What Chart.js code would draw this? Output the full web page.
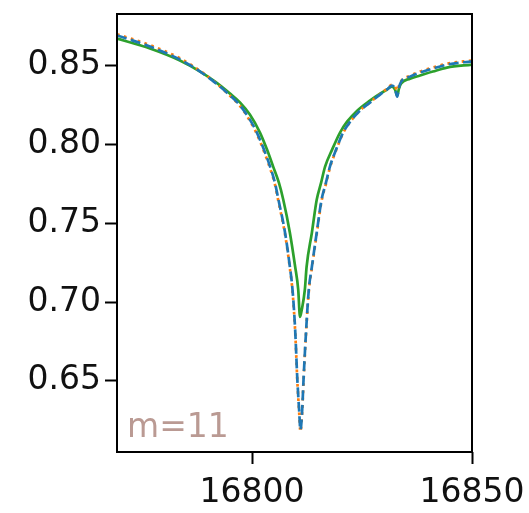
<!DOCTYPE html>
<html>
<head>
<meta charset="utf-8">
<script src="https://cdn.jsdelivr.net/npm/chart.js@4"></script>
<style>
  html, body { margin: 0; padding: 0; background: #fff; }
  canvas { display: block; }
</style>
</head>
<body>
<canvas id="chart" width="529" height="513"></canvas>
<script>
// valores (comprimento de onda x fluxo normalizado)
const waveBlue = [16769.3, 16776.8, 16783.6, 16788.2, 16791.6, 16795.0, 16797.3, 16799.5, 16801.1, 16802.7,
    16804.1, 16805.2, 16806.0, 16807.5, 16808.6, 16809.2, 16809.8, 16810.3, 16810.7, 16811.0,
    16811.4, 16811.7, 16812.3, 16812.9, 16813.6, 16814.7, 16815.8, 16816.8, 16817.7, 16819.1,
    16820.7, 16822.3, 16824.5, 16826.8, 16829.1, 16830.7, 16831.8, 16832.5, 16833.0, 16833.4,
    16833.9, 16835.9, 16838.2, 16841.1, 16844.3, 16850.0];
const fluxBlue = [0.8691, 0.8621, 0.8538, 0.8462, 0.8392, 0.8310, 0.8246, 0.8157, 0.8075, 0.7967,
    0.7859, 0.7757, 0.7649, 0.7440, 0.7224, 0.7078, 0.6824, 0.6506, 0.6316, 0.6189,
    0.6316, 0.6506, 0.6824, 0.7078, 0.7224, 0.7440, 0.7649, 0.7757, 0.7859, 0.7967,
    0.8075, 0.8144, 0.8214, 0.8265, 0.8316, 0.8348, 0.8373, 0.8354, 0.8303, 0.8360,
    0.8398, 0.8430, 0.8456, 0.8481, 0.8506, 0.8527];
const fluxOrange = [0.8699, 0.8630, 0.8546, 0.8466, 0.8394, 0.8308, 0.8242, 0.8150, 0.8066, 0.7956,
    0.7848, 0.7746, 0.7638, 0.7430, 0.7214, 0.7068, 0.6815, 0.6496, 0.6305, 0.6178,
    0.6305, 0.6496, 0.6815, 0.7068, 0.7214, 0.7430, 0.7640, 0.7750, 0.7852, 0.7962,
    0.8072, 0.8142, 0.8214, 0.8266, 0.8320, 0.8353, 0.8378, 0.8368, 0.8340, 0.8372,
    0.8402, 0.8435, 0.8462, 0.8487, 0.8512, 0.8532];

const waveGreen = [16769.3, 16776.8, 16783.6, 16788.2, 16791.6, 16795.0, 16797.3, 16799.5, 16801.8, 16803.4,
    16804.8, 16806.1, 16807.1, 16808.6, 16809.8, 16810.5, 16810.9, 16811.3, 16812.0, 16812.4,
    16813.6, 16814.7, 16815.7, 16816.6, 16818.2, 16820.0, 16821.6, 16823.9, 16826.8, 16829.1,
    16830.7, 16831.8, 16832.5, 16833.0, 16833.4, 16833.9, 16835.9, 16838.2, 16841.1, 16844.3,
    16850.0];
const fluxGreen = [0.8671, 0.8608, 0.8532, 0.8462, 0.8398, 0.8322, 0.8265, 0.8189, 0.8075, 0.7967,
    0.7859, 0.7757, 0.7649, 0.7440, 0.7224, 0.7078, 0.6906, 0.6951, 0.7078, 0.7224,
    0.7440, 0.7649, 0.7757, 0.7859, 0.7967, 0.8075, 0.8144, 0.8214, 0.8278, 0.8322,
    0.8348, 0.8367, 0.8348, 0.8310, 0.8354, 0.8386, 0.8417, 0.8437, 0.8462, 0.8487,
    0.8506];

const xTicks = [16800, 16850];
const yTicks = [0.65, 0.70, 0.75, 0.80, 0.85];
const rotulo = 'm=11';

const toPoints = (xs, ys) => xs.map((x, i) => ({ x: x, y: ys[i] }));

const fonte = { family: '"DejaVu Sans", sans-serif', size: 33 };

// moldura completa (matplotlib desenha os 4 lados) + texto m=11
const molduraPlugin = {
    id: 'moldura',
    afterDraw(chart) {
        const { ctx, chartArea: a } = chart;
        ctx.save();
        ctx.strokeStyle = '#000';
        ctx.lineWidth = 2;
        ctx.strokeRect(a.left, a.top, a.right - a.left, a.bottom - a.top);
        ctx.fillStyle = 'rgba(140,86,75,0.6)';
        ctx.font = '33px "DejaVu Sans", sans-serif';
        ctx.textBaseline = 'alphabetic';
        ctx.fillText(rotulo, a.left + 10, a.bottom - 15);
        ctx.restore();
    }
};

const eixoComum = {
    type: 'linear',
    grid: { drawOnChartArea: false, drawTicks: true, tickLength: 12, tickWidth: 2, tickColor: '#000' },
    border: { display: false },
};

new Chart(document.getElementById('chart'), {
    type: 'line',
    data: {
        datasets: [
            { data: toPoints(waveBlue, fluxBlue), borderColor: '#1f77b4', borderWidth: 2.7, borderDash: [10, 4.5], order: 0 },
            { data: toPoints(waveBlue, fluxOrange), borderColor: '#ff7f0e', borderWidth: 2.7, borderDash: [2.7, 4.5], order: 1 },
            { data: toPoints(waveGreen, fluxGreen), borderColor: '#2ca02c', borderWidth: 2.7, order: 2 }
        ]
    },
    options: {
        animation: false,
        responsive: false,
        layout: { padding: { top: 14, right: 57, left: 0, bottom: 0 } },
        elements: { point: { radius: 0 }, line: { cubicInterpolationMode: 'monotone', fill: false } },
        plugins: { legend: { display: false }, tooltip: { enabled: false } },
        scales: {
            x: {
                ...eixoComum,
                min: 16769.3,
                max: 16850,
                afterBuildTicks: (s) => { s.ticks = xTicks.map(v => ({ value: v })); },
                afterFit: (s) => { s.height = 61; s.paddingLeft = 0; s.paddingRight = 0; },
                ticks: { font: fonte, color: '#111', padding: 10, maxRotation: 0, callback: (v) => String(v) }
            },
            y: {
                ...eixoComum,
                min: 0.6049,
                max: 0.8827,
                afterBuildTicks: (s) => { s.ticks = yTicks.map(v => ({ value: v })); },
                afterFit: (s) => { s.width = 117; s.paddingTop = 0; s.paddingBottom = 0; },
                ticks: { font: fonte, color: '#111', padding: 4, callback: (v) => v.toFixed(2) }
            }
        }
    },
    plugins: [molduraPlugin]
});
</script>
</body>
</html>
